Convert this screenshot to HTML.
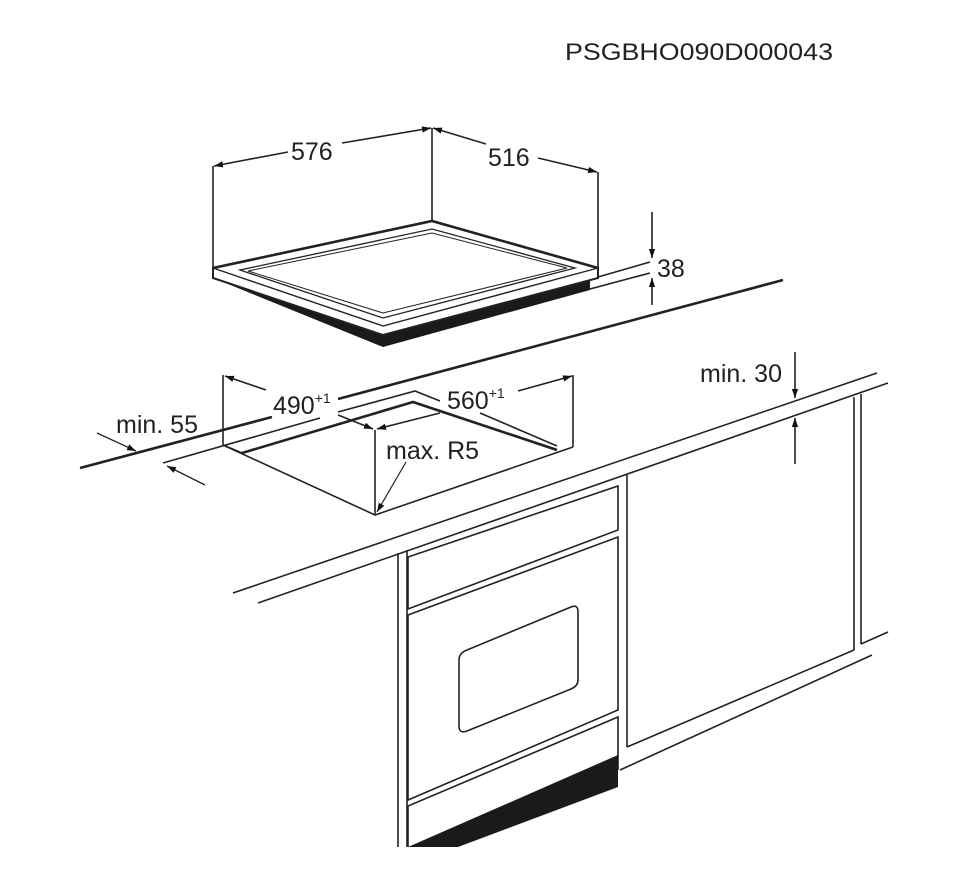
<!DOCTYPE html>
<html><head><meta charset="utf-8"><style>
html,body{margin:0;padding:0;background:#fff}
svg{display:block}
text{font-family:"Liberation Sans",sans-serif;fill:#222}
</style></head><body>
<svg width="962" height="875" viewBox="0 0 962 875" xmlns="http://www.w3.org/2000/svg">
<defs>
<marker id="a" viewBox="0 0 10 10" refX="10" refY="5" markerWidth="9" markerHeight="9" orient="auto-start-reverse" markerUnits="userSpaceOnUse"><path d="M0,1.5 L10,5 L0,8.5 z" fill="#111"/></marker>
</defs>
<g stroke="#222" fill="none" stroke-width="1.6">
<text x="565" y="60" font-size="24" textLength="268" lengthAdjust="spacingAndGlyphs" stroke="none">PSGBHO090D000043</text>

<!-- Hob -->
<polygon points="228,284 383,347 590,290 590,278 383,333 228,278" fill="#1a1a1a" stroke="none"/>
<polygon points="213,268 432,221 598,268 598,278 383,335 213,278" fill="#fff" stroke-width="2"/>
<polyline points="213,268 383,326 598,268" stroke-width="1.4"/>
<polyline points="213,268 432,221 598,268" stroke-width="2.6"/>
<polygon points="240,270 432,229 575,268 383,318" stroke-width="1.3"/>
<polygon points="248,271 432,233 567,268 383,313" stroke-width="1"/>
<!-- hob dims -->
<line x1="213" y1="268" x2="213" y2="166"/>
<line x1="432" y1="221" x2="432" y2="128"/>
<line x1="598" y1="268" x2="598" y2="172"/>
<line x1="288" y1="152" x2="214" y2="166" marker-end="url(#a)"/>
<line x1="342" y1="143" x2="431" y2="128" marker-end="url(#a)"/>
<line x1="486" y1="144" x2="433" y2="128" marker-end="url(#a)"/>
<line x1="538" y1="158" x2="597" y2="172" marker-end="url(#a)"/>
<text x="291" y="160" font-size="25" stroke="none">576</text>
<text x="488" y="166" font-size="25" stroke="none">516</text>
<line x1="598" y1="277" x2="650" y2="262"/>
<line x1="590" y1="289" x2="650" y2="273"/>
<line x1="652" y1="212" x2="652" y2="258" marker-end="url(#a)"/>
<line x1="652" y1="305" x2="652" y2="278" marker-end="url(#a)"/>
<text x="657" y="277" font-size="25" stroke="none">38</text>

<!-- countertop back edge -->
<line x1="80" y1="468" x2="272" y2="417" stroke-width="2.6"/>
<line x1="338" y1="399" x2="783" y2="280" stroke-width="2.6"/>
<!-- cutout -->
<line x1="163" y1="463" x2="320" y2="418"/>
<polyline points="338,412 415,391 440,401"/>
<polyline points="242,453 413,402 557,450" stroke-width="2.6"/>
<line x1="480" y1="413" x2="557" y2="446"/>
<polyline points="223,445 375,515 573,447"/>
<line x1="223" y1="445" x2="242" y2="453"/>
<line x1="223" y1="375" x2="223" y2="445"/>
<line x1="573" y1="375" x2="573" y2="447"/>
<line x1="375" y1="430" x2="375" y2="515"/>
<line x1="266" y1="390" x2="225" y2="376" marker-end="url(#a)"/>
<line x1="338" y1="415" x2="373" y2="429" marker-end="url(#a)"/>
<line x1="518" y1="391" x2="572" y2="376" marker-end="url(#a)"/>
<line x1="440" y1="413" x2="377" y2="429" marker-end="url(#a)"/>
<text x="273" y="414" font-size="25" stroke="none">490<tspan font-size="14" dy="-11">+1</tspan></text>
<text x="447" y="409" font-size="25" stroke="none">560<tspan font-size="14" dy="-11">+1</tspan></text>
<text x="386" y="459" font-size="25" stroke="none">max. R5</text>
<line x1="406" y1="462" x2="377" y2="512" stroke-width="1.2" marker-end="url(#a)"/>
<text x="116" y="433" font-size="25" stroke="none">min. 55</text>
<line x1="97" y1="433" x2="136" y2="451" stroke-width="1.3" marker-end="url(#a)"/>
<line x1="205" y1="485" x2="167" y2="466" stroke-width="1.3" marker-end="url(#a)"/>

<!-- countertop front -->
<line x1="233" y1="593" x2="877" y2="373"/>
<line x1="258" y1="603" x2="888" y2="383"/>
<text x="700" y="382" font-size="25" stroke="none">min. 30</text>
<line x1="795" y1="352" x2="795" y2="398" marker-end="url(#a)"/>
<line x1="795" y1="464" x2="795" y2="418" marker-end="url(#a)"/>

<!-- cabinet -->
<line x1="398" y1="553" x2="398" y2="847"/>
<line x1="407" y1="550" x2="407" y2="847"/>
<polygon points="408,557 618,486 618,530 408,609"/>
<polygon points="408,615 618,537 618,710 408,800"/>
<path d="M467,650 L571,607 Q578,604 578,612 L578,680 Q578,686 571,689 L467,731 Q459,734 459,726 L459,660 Q459,653 467,650 z"/>
<polyline points="408,847 408,806 618,717 618,770"/>
<polygon points="408,847 458,847 618,787 618,755" fill="#1a1a1a" stroke="none"/>
<line x1="627" y1="475" x2="627" y2="747"/>
<line x1="627" y1="747" x2="854" y2="650"/>
<line x1="854" y1="397" x2="854" y2="650"/>
<line x1="861" y1="394" x2="861" y2="644"/>
<line x1="861" y1="644" x2="888" y2="632"/>
<line x1="620" y1="770" x2="872" y2="655"/>
</g>
</svg>
</body></html>
